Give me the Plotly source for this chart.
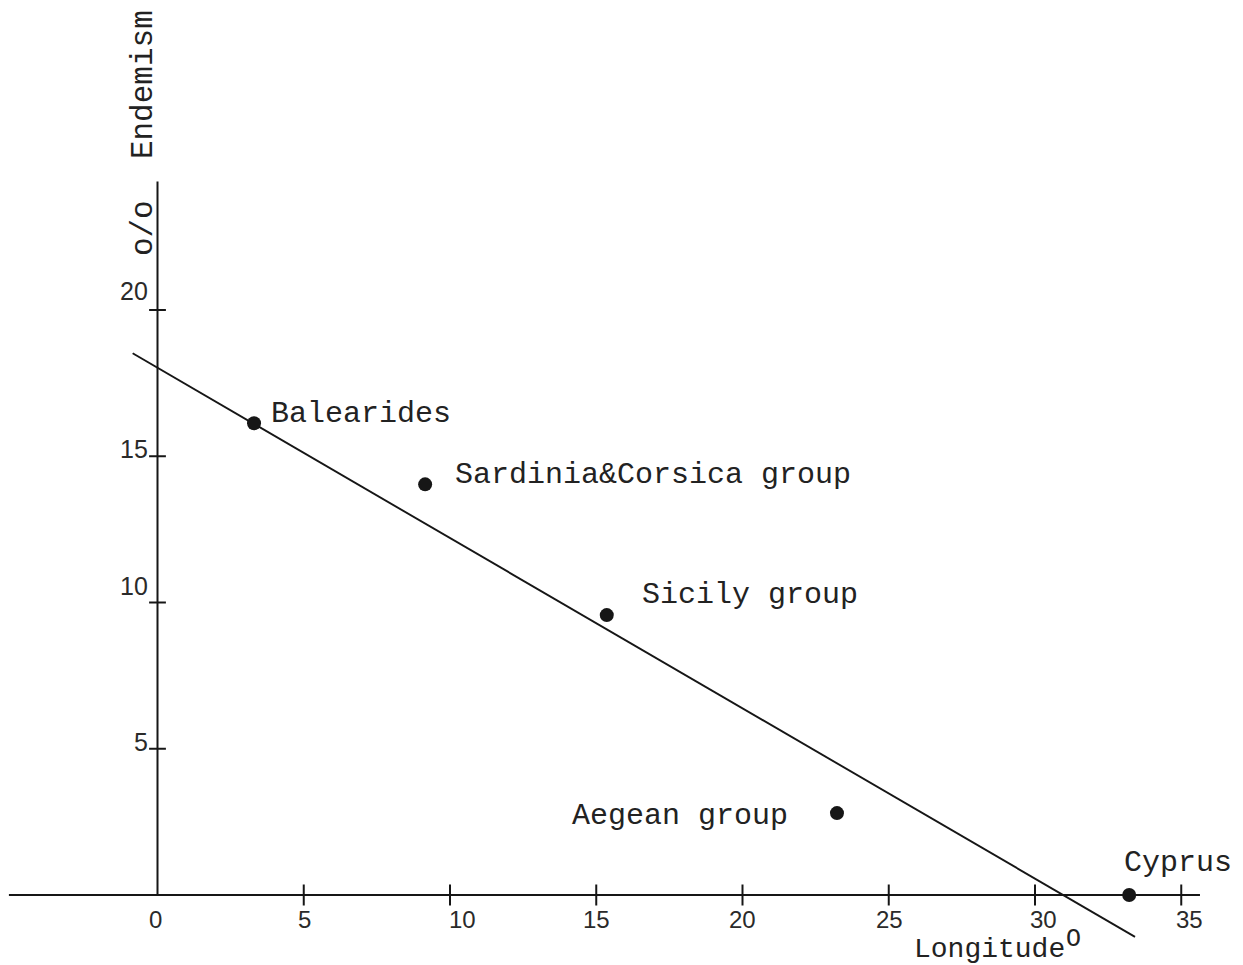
import plotly.graph_objects as go

# ---------------- data ----------------
regions = ["Balearides", "Sardinia&Corsica group", "Sicily group", "Aegean group", "Cyprus"]
longitude = [3.30, 9.15, 15.36, 23.23, 33.22]
endemism = [16.13, 14.04, 9.57, 2.80, 0.0]

fit_longitude = [-0.85, 33.42]
fit_endemism = [18.52, -1.43]

x_tick_values = [5, 10, 15, 20, 25, 30, 35]
x_label_values = [0, 5, 10, 15, 20, 25, 30, 35]
x_tick_labels = ["0", "5", "10", "15", "20", "25", "30", "35"]
y_tick_values = [5, 10, 15, 20]
y_tick_labels = ["5", "10", "15", "20"]

x_axis_extent = [-5.08, 35.64]
y_axis_extent = [0, 24.39]

# ---------------- styles ----------------
INK = "#161616"
TEXT_FONT = dict(family="Liberation Mono, Courier New, monospace", size=30, color="#222222")
TITLE_FONT = dict(family="Liberation Mono, Courier New, monospace", size=31, color="#222222")
XTITLE_FONT = dict(family="Liberation Mono, Courier New, monospace", size=28, color="#222222")
DEG_FONT = dict(family="Liberation Mono, Courier New, monospace", size=25, color="#222222")
TICK_FONT = dict(family="Liberation Sans, Arial, sans-serif", size=25, color="#2a2a2a")
XTICK_FONT = dict(family="Liberation Sans, Arial, sans-serif", size=24, color="#2a2a2a")

# page body has an 8px margin: the figure is placed 8px in from the window corner
PAGE_OFFSET = 8
WIN_W, WIN_H = 1243, 965
PX_PER_UNIT = 29.25
ORIGIN_PX = (157.5, 895.0)  # window pixel of data origin

# label placement (pixel shifts from their points)
label_style = {
    "Balearides": dict(xanchor="left", xshift=15, yshift=9),
    "Sardinia&Corsica group": dict(xanchor="left", xshift=28, yshift=9),
    "Sicily group": dict(xanchor="left", xshift=33, yshift=20),
    "Aegean group": dict(xanchor="right", xshift=-47, yshift=-3),
    "Cyprus": dict(xanchor="left", xshift=-7, yshift=32),
}
x_label_dx = [-2, 1, 12, 0, 0, 1, 8, 8]
y_label_dy = [7, 17, 7, 19]

fig = go.Figure()

# axes drawn as lines
fig.add_trace(go.Scatter(x=x_axis_extent, y=[0, 0], mode="lines",
                         line=dict(color=INK, width=2), hoverinfo="skip"))
fig.add_trace(go.Scatter(x=[0, 0], y=y_axis_extent, mode="lines",
                         line=dict(color=INK, width=2), hoverinfo="skip"))
# tick marks
fig.add_trace(go.Scatter(x=x_tick_values, y=[0] * len(x_tick_values), mode="markers",
                         marker=dict(symbol="line-ns", size=15, line=dict(color=INK, width=2)),
                         hoverinfo="skip"))
fig.add_trace(go.Scatter(x=[0] * len(y_tick_values), y=y_tick_values, mode="markers",
                         marker=dict(symbol="line-ew", size=12, line=dict(color=INK, width=2)),
                         hoverinfo="skip"))

# regression line
fig.add_trace(go.Scatter(x=fit_longitude, y=fit_endemism, mode="lines",
                         line=dict(color=INK, width=1.9), hoverinfo="skip"))

# data points
fig.add_trace(go.Scatter(x=longitude, y=endemism, mode="markers",
                         marker=dict(color=INK, size=14), text=regions,
                         hovertemplate="%{text}: %{x}°, %{y}%<extra></extra>"))

annotations = []
for name, lx, ly in zip(regions, longitude, endemism):
    s = label_style[name]
    annotations.append(dict(x=lx, y=ly, xref="x", yref="y", text=name, showarrow=False,
                            font=TEXT_FONT, xanchor=s["xanchor"], yanchor="middle",
                            xshift=s["xshift"], yshift=s["yshift"]))

for v, t, dx in zip(x_label_values, x_tick_labels, x_label_dx):
    annotations.append(dict(x=v, y=0, xref="x", yref="y", text=t, showarrow=False,
                            font=XTICK_FONT, xanchor="center", yanchor="middle",
                            xshift=dx, yshift=-24, borderpad=0))
for v, t, dy in zip(y_tick_values, y_tick_labels, y_label_dy):
    annotations.append(dict(x=0, y=v, xref="x", yref="y", text=t, showarrow=False,
                            font=TICK_FONT, xanchor="right", yanchor="middle",
                            xshift=-8, yshift=dy))

# axis titles
annotations.append(dict(x=0, y=y_axis_extent[1], xref="x", yref="y", text="Endemism",
                        showarrow=False, font=TITLE_FONT, textangle=-90,
                        xanchor="center", yanchor="middle", xshift=-14, yshift=97))
annotations.append(dict(x=0, y=y_axis_extent[1], xref="x", yref="y", text="o/o",
                        showarrow=False, font=TITLE_FONT, textangle=-90,
                        xanchor="center", yanchor="middle", xshift=-14, yshift=-47))
annotations.append(dict(x=25.83, y=0, xref="x", yref="y", text="Longitude",
                        showarrow=False, font=XTITLE_FONT, xanchor="left", yanchor="top",
                        yshift=-38, borderpad=0))
annotations.append(dict(x=31.02, y=0, xref="x", yref="y", text="O",
                        showarrow=False, font=DEG_FONT, xanchor="left", yanchor="middle",
                        yshift=-44, borderpad=0))

fig_w = WIN_W - PAGE_OFFSET
fig_h = WIN_H - PAGE_OFFSET
x0 = (PAGE_OFFSET - ORIGIN_PX[0]) / PX_PER_UNIT
x1 = (WIN_W - ORIGIN_PX[0]) / PX_PER_UNIT
y1 = (ORIGIN_PX[1] - PAGE_OFFSET) / PX_PER_UNIT
y0 = (ORIGIN_PX[1] - WIN_H) / PX_PER_UNIT

fig.update_layout(
    width=fig_w, height=fig_h,
    margin=dict(l=0, r=0, t=0, b=0),
    paper_bgcolor="white", plot_bgcolor="white",
    showlegend=False,
    xaxis=dict(range=[x0, x1], visible=False, fixedrange=True),
    yaxis=dict(range=[y0, y1], visible=False, fixedrange=True),
    annotations=annotations,
)

fig.write_html("out.html")
